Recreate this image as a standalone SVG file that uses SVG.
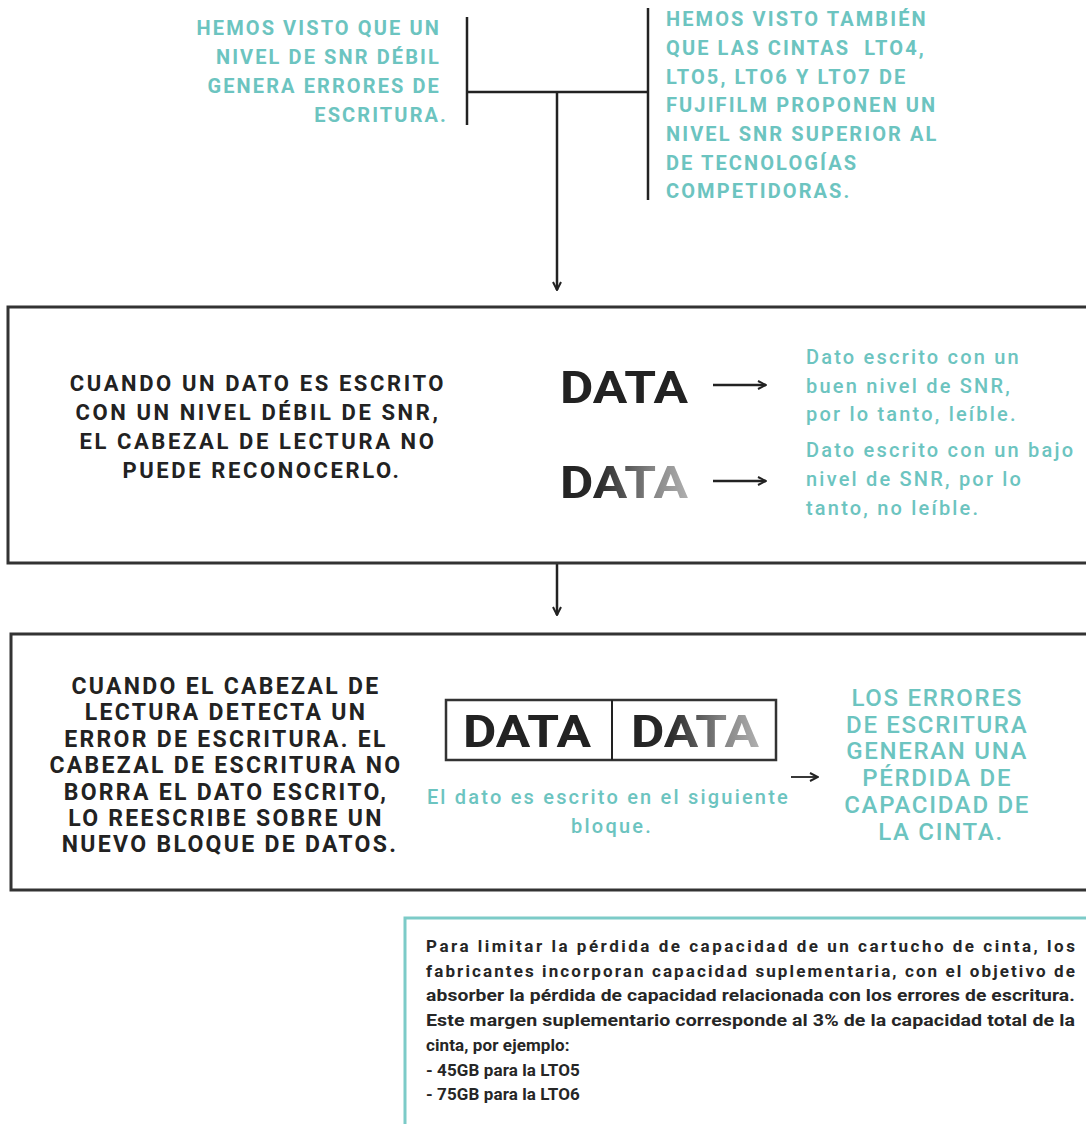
<svg xmlns="http://www.w3.org/2000/svg" width="1086" height="1124" viewBox="0 0 1086 1124">
<defs>
<style>
.cap{font-family:Roboto,"Liberation Sans",sans-serif;font-weight:700;font-size:20px;letter-spacing:2.1px}
.teal{fill:#6cc4c0}
.dark{fill:#222}
.tealtx{font-family:Roboto,"Liberation Sans",sans-serif;font-weight:500;font-size:20px;letter-spacing:2.2px;fill:#6cc4c0}
.big{font-family:Roboto,"Liberation Sans",sans-serif;font-weight:700;font-size:45px}
.body{font-family:Roboto,"Liberation Sans",sans-serif;font-weight:700;font-size:17px;letter-spacing:0.1px;fill:#262626}
.ln{stroke:#222;stroke-width:2.5;fill:none}
.box{fill:none;stroke:#333;stroke-width:3}
</style>
<marker id="ah" viewBox="0 0 10 10" refX="9" refY="5" markerWidth="10" markerHeight="10" markerUnits="userSpaceOnUse" orient="auto">
<path d="M1,1 L9,5 L1,9" fill="none" stroke="#222" stroke-width="2"/>
</marker>
<linearGradient id="fade" x1="0" y1="0" x2="1" y2="0">
<stop offset="0" stop-color="#222"/>
<stop offset="0.3" stop-color="#2a2a2a"/>
<stop offset="0.5" stop-color="#555"/>
<stop offset="0.72" stop-color="#858585"/>
<stop offset="1" stop-color="#b0b0b0"/>
</linearGradient>
</defs>
<rect width="1086" height="1124" fill="#fff"/>

<g id="connectors">
<path class="ln" d="M467,17 V125"/>
<path class="ln" d="M648,8 V200"/>
<path class="ln" d="M467,92 H648"/>
<path class="ln" d="M557,92 V290" marker-end="url(#ah)"/>
<path class="ln" d="M557,563 V615" marker-end="url(#ah)"/>
<path class="ln" d="M713,385 H766" marker-end="url(#ah)"/>
<path class="ln" d="M713,481 H766" marker-end="url(#ah)"/>
<path d="M791,777 H818" stroke="#222" stroke-width="1.8" fill="none" marker-end="url(#ah)"/>
</g>

<g id="note-left">
<text class="cap teal" text-anchor="end">
<tspan x="448" y="35">HEMOS VISTO QUE UN</tspan>
<tspan x="448" y="64">NIVEL DE SNR DÉBIL</tspan>
<tspan x="448" y="93">GENERA ERRORES DE</tspan>
<tspan x="448" y="122">ESCRITURA.</tspan>
</text>
</g>

<g id="note-right">
<text class="cap teal" xml:space="preserve"><tspan x="666" y="26">HEMOS VISTO TAMBIÉN</tspan><tspan x="666" y="55">QUE LAS CINTAS  LTO4,</tspan><tspan x="666" y="84">LTO5, LTO6 Y LTO7 DE</tspan><tspan x="666" y="112">FUJIFILM PROPONEN UN</tspan><tspan x="666" y="141">NIVEL SNR SUPERIOR AL</tspan><tspan x="666" y="170">DE TECNOLOGÍAS</tspan><tspan x="666" y="198">COMPETIDORAS.</tspan></text>
</g>

<g id="box-snr">
<rect class="box" x="8" y="307" width="1100" height="256"/>
<text class="cap dark" text-anchor="middle" style="font-size:22px;letter-spacing:2.6px">
<tspan x="262" y="391">CUANDO UN DATO ES ESCRITO</tspan>
<tspan x="262" y="420">CON UN NIVEL DÉBIL DE SNR,</tspan>
<tspan x="262" y="449">EL CABEZAL DE LECTURA NO</tspan>
<tspan x="262" y="478">PUEDE RECONOCERLO.</tspan>
</text>
<text class="big" x="560" y="403" fill="#222" textLength="128" lengthAdjust="spacingAndGlyphs">DATA</text>
<text class="big" x="560" y="498" fill="url(#fade)" textLength="128" lengthAdjust="spacingAndGlyphs">DATA</text>
<text class="tealtx">
<tspan x="806" y="364">Dato escrito con un</tspan>
<tspan x="806" y="393">buen nivel de SNR,</tspan>
<tspan x="806" y="421">por lo tanto, leíble.</tspan>
<tspan x="806" y="457">Dato escrito con un bajo</tspan>
<tspan x="806" y="486">nivel de SNR, por lo</tspan>
<tspan x="806" y="515">tanto, no leíble.</tspan>
</text>
</g>

<g id="box-rewrite">
<rect class="box" x="11" y="634" width="1100" height="256"/>
<text class="cap dark" text-anchor="middle" style="font-size:23px;letter-spacing:2.3px">
<tspan x="230" y="694">CUANDO EL CABEZAL DE</tspan>
<tspan x="230" y="720">LECTURA DETECTA UN</tspan>
<tspan x="230" y="747">ERROR DE ESCRITURA. EL</tspan>
<tspan x="230" y="773">CABEZAL DE ESCRITURA NO</tspan>
<tspan x="230" y="800">BORRA EL DATO ESCRITO,</tspan>
<tspan x="230" y="826">LO REESCRIBE SOBRE UN</tspan>
<tspan x="230" y="852">NUEVO BLOQUE DE DATOS.</tspan>
</text>
<rect x="446" y="700" width="330" height="60" fill="none" stroke="#333" stroke-width="2.5"/>
<path d="M612,700 V760" stroke="#222" stroke-width="2"/>
<text class="big" x="463" y="747" fill="#222" textLength="128" lengthAdjust="spacingAndGlyphs">DATA</text>
<text class="big" x="631" y="747" fill="url(#fade)" textLength="128" lengthAdjust="spacingAndGlyphs">DATA</text>
<text class="tealtx" text-anchor="middle">
<tspan x="612" y="804">El dato es escrito en el siguiente</tspan>
<tspan x="612" y="833">bloque.</tspan>
</text>
<text class="teal" text-anchor="middle" style="font-family:Roboto,'Liberation Sans',sans-serif;font-weight:500;font-size:24px;letter-spacing:1.7px">
<tspan x="941" y="706">LOS ERRORES</tspan>
<tspan x="941" y="733">DE ESCRITURA</tspan>
<tspan x="941" y="759">GENERAN UNA</tspan>
<tspan x="941" y="786">PÉRDIDA DE</tspan>
<tspan x="941" y="813">CAPACIDAD DE</tspan>
<tspan x="941" y="840">LA CINTA.</tspan>
</text>
</g>

<g id="note-capacity">
<rect x="405" y="918" width="700" height="230" fill="none" stroke="#7ccbc8" stroke-width="3"/>
<text class="body">
<tspan x="426" y="952" textLength="649" lengthAdjust="spacing">Para limitar la pérdida de capacidad de un cartucho de cinta, los</tspan>
<tspan x="426" y="977" textLength="649" lengthAdjust="spacing">fabricantes incorporan capacidad suplementaria, con el objetivo de</tspan>
<tspan x="426" y="1001" textLength="649" lengthAdjust="spacingAndGlyphs">absorber la pérdida de capacidad relacionada con los errores de escritura.</tspan>
<tspan x="426" y="1026" textLength="649" lengthAdjust="spacingAndGlyphs">Este margen suplementario corresponde al 3% de la capacidad total de la</tspan>
<tspan x="426" y="1051">cinta, por ejemplo:</tspan>
<tspan x="426" y="1076">- 45GB para la LTO5</tspan>
<tspan x="426" y="1100">- 75GB para la LTO6</tspan>
</text>
</g>
</svg>
